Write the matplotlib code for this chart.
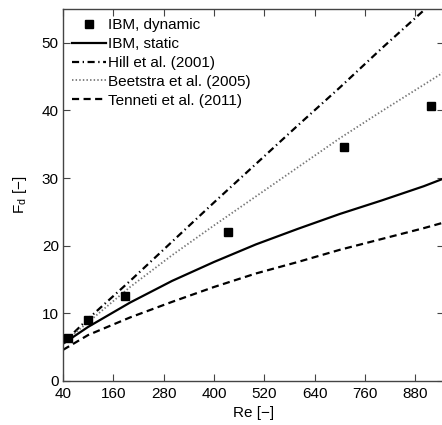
import matplotlib
matplotlib.use("Agg")
import matplotlib.pyplot as plt

plt.rcParams['font.family'] = ['Liberation Sans', 'DejaVu Sans']
plt.rcParams['mathtext.fontset'] = 'custom'
plt.rcParams['mathtext.rm'] = 'Liberation Sans'

# IBM dynamic (markers)
re_dyn = [53, 100, 188, 433, 711, 918]
fd_dyn = [6.3, 9.0, 12.5, 22.0, 34.6, 40.6]

# curves sampled on a common Re grid
re_grid = [40, 100, 200, 300, 400, 500, 600, 700, 800, 900, 946]
fd_static = [5.5, 8.0, 11.6, 14.8, 17.6, 20.2, 22.5, 24.7, 26.7, 28.8, 29.9]
fd_hill = [5.6, 9.2, 14.8, 20.6, 26.4, 32.1, 37.8, 43.4, 49.2, 54.8, 57.4]
fd_beetstra = [5.6, 8.7, 13.9, 18.6, 23.0, 27.3, 31.6, 35.9, 39.9, 43.8, 45.6]
fd_tenneti = [4.6, 6.8, 9.4, 11.7, 13.9, 15.9, 17.6, 19.4, 21.0, 22.6, 23.4]

xticks = [40, 160, 280, 400, 520, 640, 760, 880]
yticks = [0, 10, 20, 30, 40, 50]

FS = 11

fig = plt.figure(figsize=(4.42, 4.25), dpi=100)
ax = fig.add_axes([63/442, 1-381/425, (443.5-63)/442, (381-9)/425])

ax.plot(re_dyn, fd_dyn, linestyle='none', marker='s', markersize=6,
        color='black', label='IBM, dynamic', zorder=5)
ax.plot(re_grid, fd_static, color='black', lw=1.6, label='IBM, static')
ax.plot(re_grid, fd_hill, color='black', lw=1.6,
        linestyle=(0, (3.2, 1.6, 0.6, 1.6)), label='Hill et al. (2001)')
ax.plot(re_grid, fd_beetstra, color='#777777', lw=1.3,
        linestyle=(0, (0.8, 1.2)), label='Beetstra et al. (2005)')
ax.plot(re_grid, fd_tenneti, color='black', lw=1.6,
        linestyle=(0, (3.2, 2.0)), label='Tenneti et al. (2011)')

ax.set_xlim(40, 947)
ax.set_ylim(0, 55)
ax.set_xticks(xticks)
ax.set_yticks(yticks)
ax.tick_params(direction='in', top=True, right=True, length=5,
               labelsize=FS, width=0.8, color='#444444')
ax.tick_params(axis='x', pad=4)
ax.tick_params(axis='y', pad=3)
for s in ax.spines.values():
    s.set_linewidth(1.0)
    s.set_color('#444444')

ax.set_xlabel('Re [\u2212]', fontsize=FS, labelpad=4)
ax.set_ylabel('F$_\\mathregular{d}$ [\u2212]', fontsize=FS, labelpad=9)

leg = ax.legend(loc='upper left', frameon=False, fontsize=FS,
                handlelength=2.2, handletextpad=0.15, labelspacing=0.32,
                borderaxespad=0.3, borderpad=0.3)

fig.savefig('out.png', dpi=100)
